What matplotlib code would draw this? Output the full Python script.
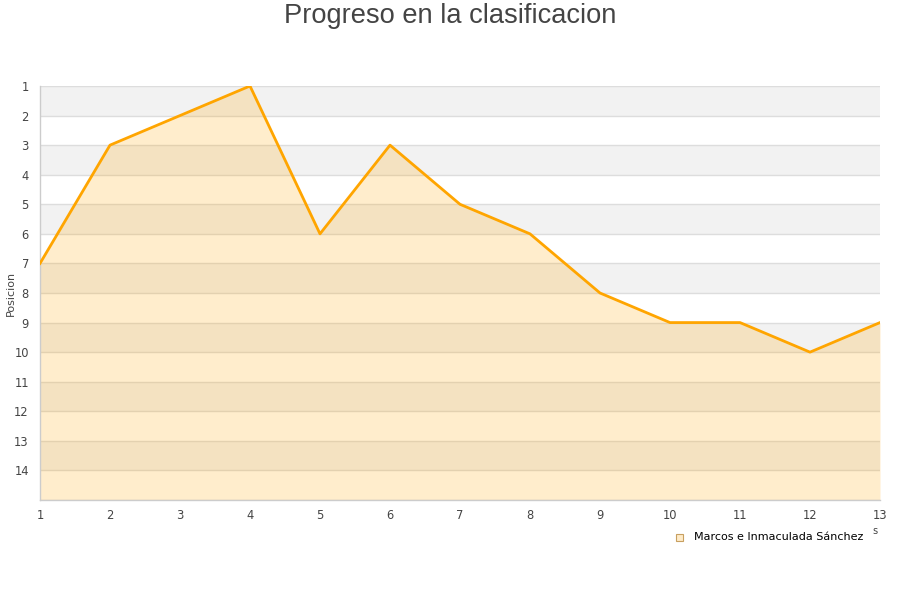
import matplotlib
matplotlib.use("Agg")
import matplotlib.pyplot as plt
import numpy as np

# datos
jornadas = [1, 2, 3, 4, 5, 6, 7, 8, 9, 10, 11, 12, 13]
posicion = [7, 3, 2, 1, 6, 3, 5, 6, 8, 9, 9, 10, 9]
equipo = "Marcos e Inmaculada Sánchez"
titulo = "Progreso en la clasificacion"

plt.rcParams['font.family'] = ['DejaVu Sans']

fig = plt.figure(figsize=(9, 6), dpi=100)
ax = fig.add_axes([40 / 900, 100 / 600, 840 / 900, 414 / 600])

# bandas alternas
for y0 in range(1, 15, 2):
    ax.axhspan(y0, y0 + 1, color="#f2f2f2", zorder=0, lw=0)
for y0 in range(1, 16):
    ax.axhline(y0, color="#dddddd", lw=1, zorder=1)

ax.fill_between(jornadas, posicion, 15, color="#ffa500", alpha=0.2, lw=0, zorder=2)
ax.plot(jornadas, posicion, color="#ffa500", lw=2, zorder=3)

ax.set_xlim(1, 13)
ax.set_ylim(15, 1)
ax.set_xticks(jornadas)
ax.set_yticks(range(1, 15))
ax.tick_params(axis="both", length=0, labelsize=8.3, labelcolor="#444444")
ax.tick_params(axis="x", pad=6.5)
ax.tick_params(axis="y", pad=8)

for s in ["top", "right"]:
    ax.spines[s].set_visible(False)
for s in ["left", "bottom"]:
    ax.spines[s].set_color("#cccccc")
    ax.spines[s].set_linewidth(1)

fig.text(11 / 900, 1 - 293 / 600, "Posicion", rotation=90, ha="center", va="center",
         fontsize=8, color="#444444")

fig.text(0.5, 1 - 16 / 600, titulo, ha="center", va="center", fontsize=19.6,
         color="#444444", family="Liberation Sans")

# leyenda
fig.patches.append(plt.Rectangle((676 / 900, 1 - 541 / 600), 7 / 900, 7 / 600,
                                 transform=fig.transFigure, facecolor="#ffebc8",
                                 edgecolor="#c8a060", lw=0.8))
fig.text(694 / 900, 1 - 537 / 600, equipo, ha="left", va="center", fontsize=8, color="#000000")
fig.text(875 / 900, 1 - 531 / 600, "s", ha="center", va="center", fontsize=7, color="#444444")

fig.savefig("out.png", dpi=100)
